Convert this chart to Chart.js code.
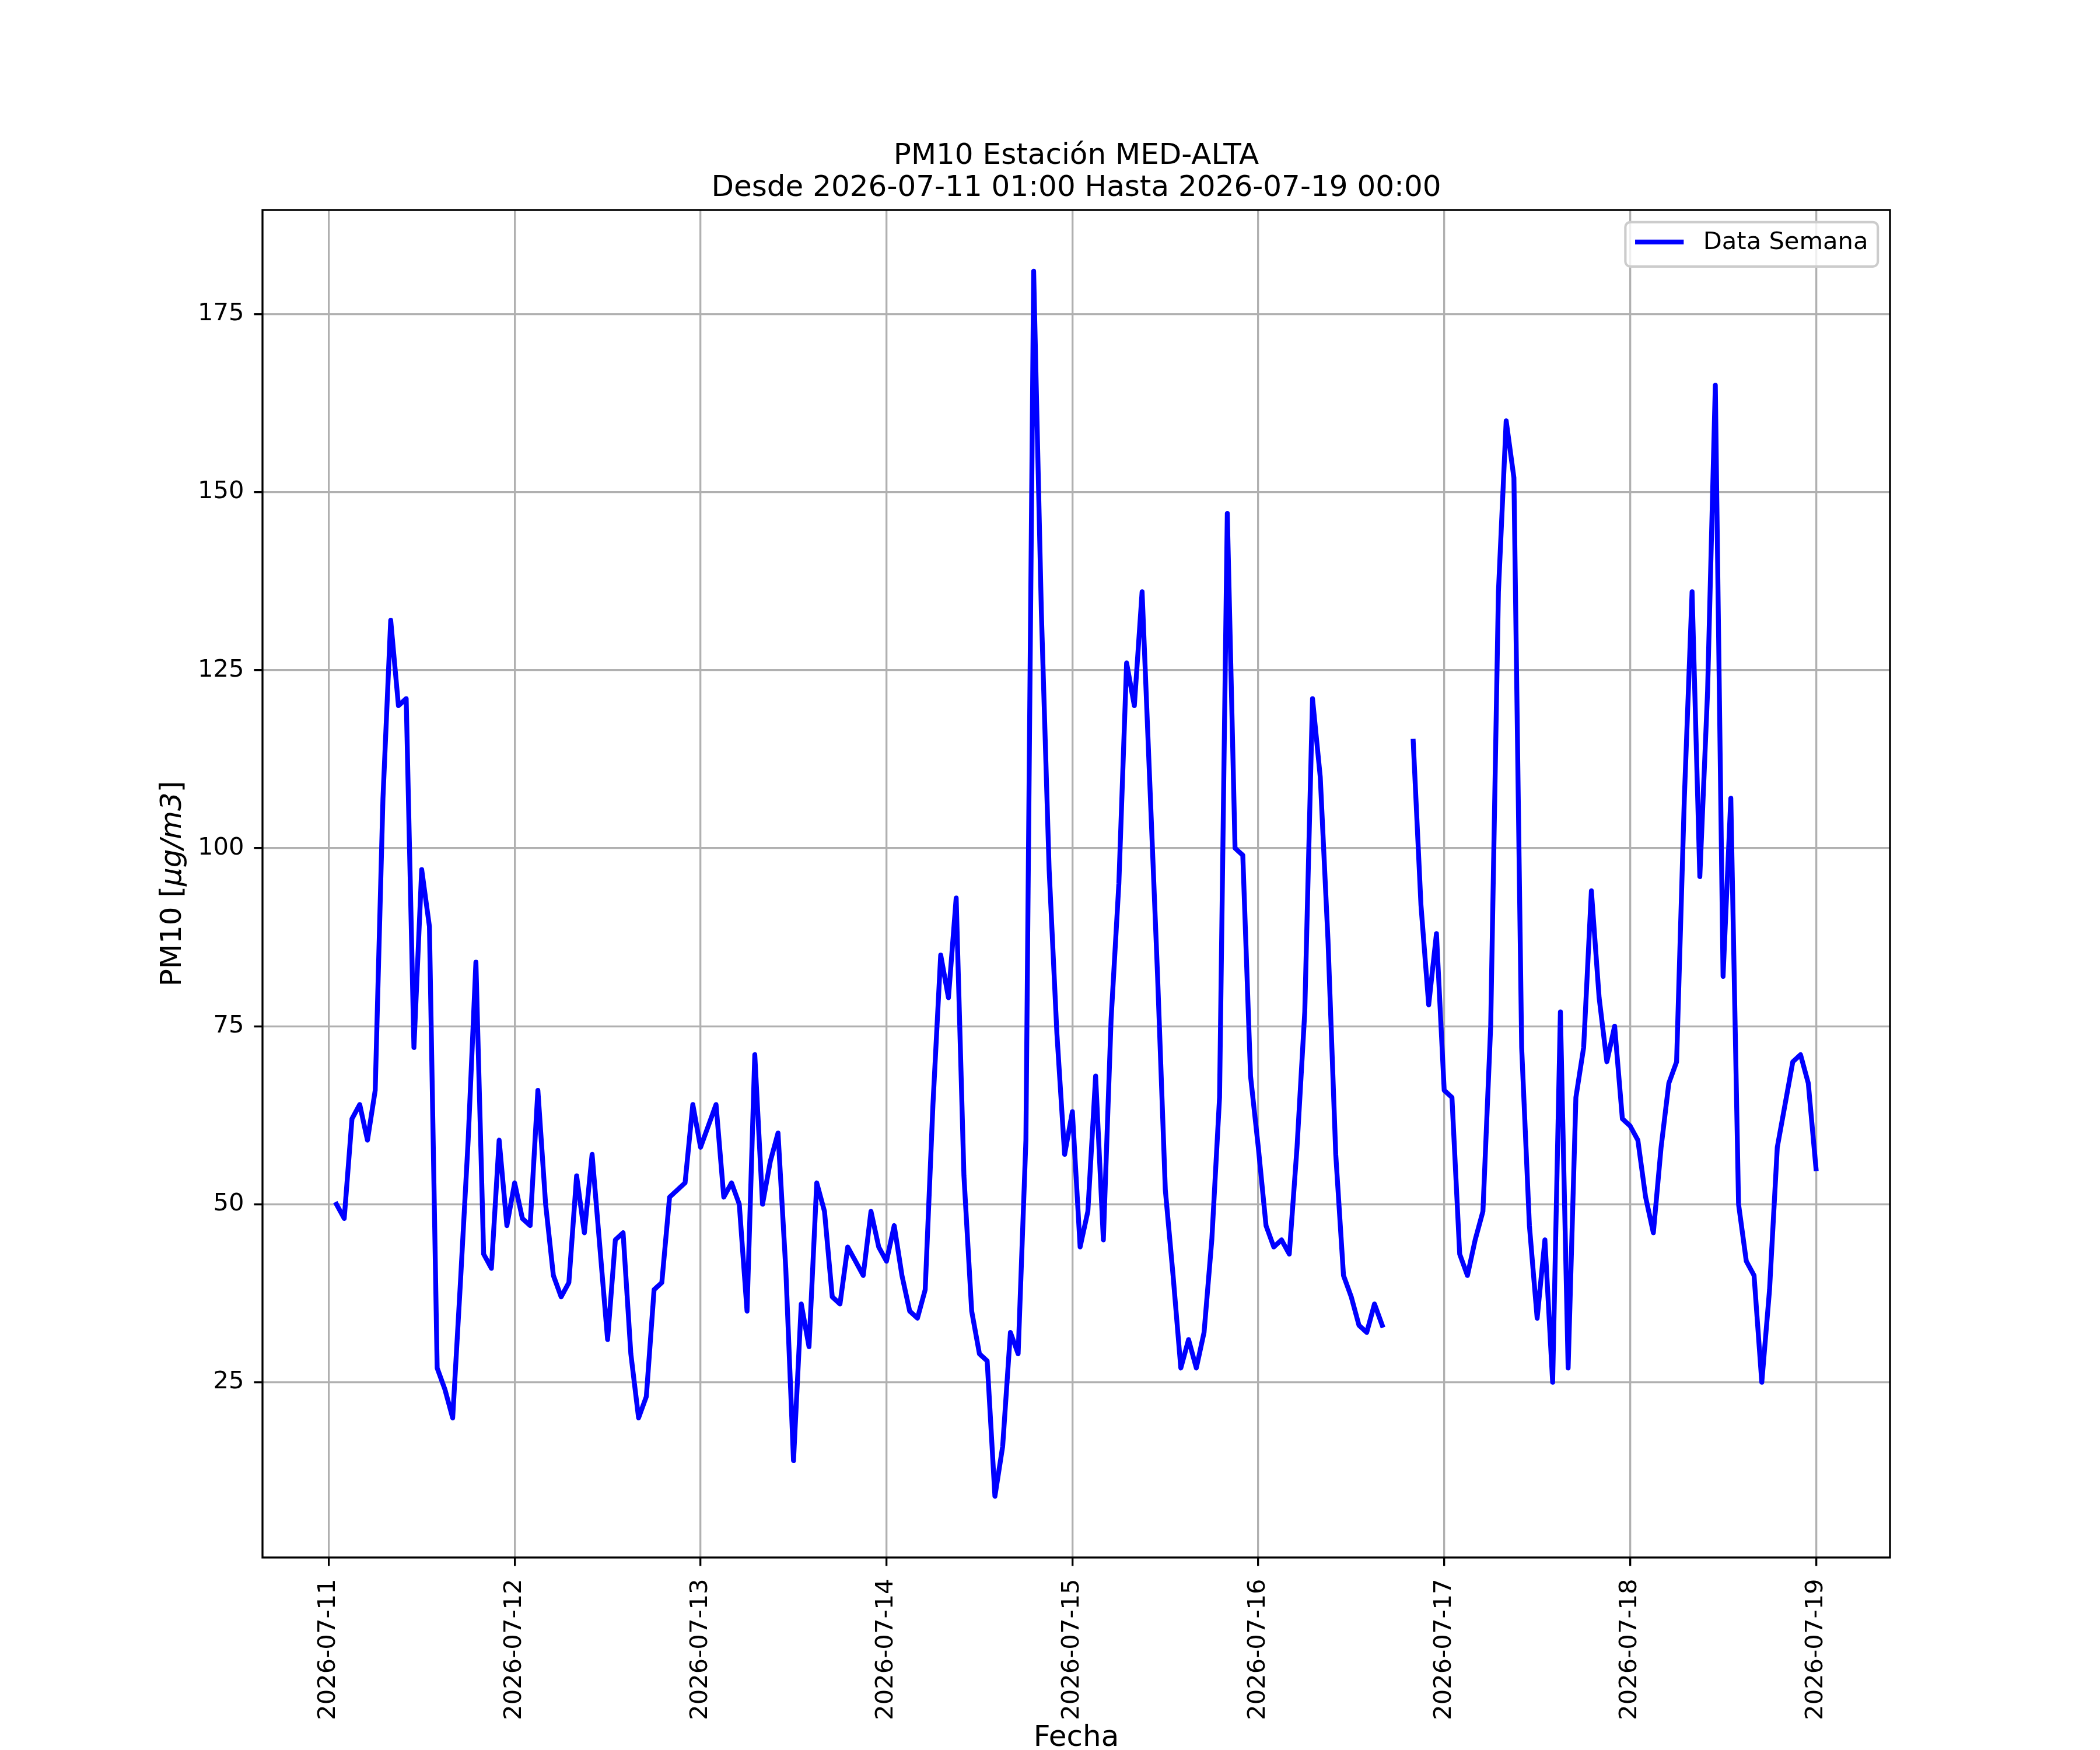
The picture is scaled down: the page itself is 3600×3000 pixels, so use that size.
<!DOCTYPE html>
<html>
<head>
<meta charset="utf-8">
<script src="https://cdn.jsdelivr.net/npm/chart.js@4.4.1/dist/chart.umd.min.js"></script>
<style>
  body { margin: 0; background: #ffffff; }
  canvas { display: block; }
</style>
</head>
<body>
<canvas id="chart" width="3600" height="3000"></canvas>
<script>
// hourly PM10, 2026-07-11 01:00 .. 2026-07-19 00:00 (null = missing hour)
const pm10 = [
  // 07-11 01..23
  50, 48, 62, 64, 59, 66, 107, 132, 120, 121, 72, 97, 89, 27, 24, 20, 39, 59, 84, 43, 41, 59, 47,
  // 07-12
  53, 48, 47, 66, 50, 40, 37, 39, 54, 46, 57, 44, 31, 45, 46, 29, 20, 23, 38, 39, 51, 52, 53, 64,
  // 07-13
  58, 61, 64, 51, 53, 50, 35, 71, 50, 56, 60, 41, 14, 36, 30, 53, 49, 37, 36, 44, 42, 40, 49, 44,
  // 07-14
  42, 47, 40, 35, 34, 38, 64, 85, 79, 93, 54, 35, 29, 28, 9, 16, 32, 29, 59, 181, 133, 97, 74, 57,
  // 07-15
  63, 44, 49, 68, 45, 76, 95, 126, 120, 136, 109, 82, 52, 40, 27, 31, 27, 32, 45, 65, 147, 100, 99, 68,
  // 07-16
  58, 47, 44, 45, 43, 58, 77, 121, 110, 87, 57, 40, 37, 33, 32, 36, 33, null, null, null, 115, 92, 78, 88,
  // 07-17
  66, 65, 43, 40, 45, 49, 75, 136, 160, 152, 72, 47, 34, 45, 25, 77, 27, 65, 72, 94, 79, 70, 75, 62,
  // 07-18
  61, 59, 51, 46, 58, 67, 70, 107, 136, 96, 122, 165, 82, 107, 50, 42, 40, 25, 38, 58, 64, 70, 71, 67,
  // 07-19 00
  55
];
// hours counted from 2026-07-11 00:00
const hours = pm10.map((v, i) => i + 1);

const dayLabels = ["2026-07-11", "2026-07-12", "2026-07-13", "2026-07-14", "2026-07-15",
  "2026-07-16", "2026-07-17", "2026-07-18", "2026-07-19"];
const dayHours = [0, 24, 48, 72, 96, 120, 144, 168, 192];
const yTicks = [25, 50, 75, 100, 125, 150, 175];

const titleLines = ["PM10 Estación MED-ALTA", "Desde 2026-07-11 01:00 Hasta 2026-07-19 00:00"];
const seriesName = "Data Semana";
// y label: plain part, italic (math) part, plain part
const yLabelParts = [["PM10 [", false], ["μg/m3", true], ["]", false]];

const FONT = "DejaVu Sans";
const PT = 300 / 72;

const framePlugin = {
  id: "frame",
  beforeDraw(chart) {
    const ctx = chart.ctx;
    ctx.save();
    ctx.fillStyle = "#ffffff";
    ctx.fillRect(0, 0, chart.width, chart.height);
    ctx.restore();
  },
  afterDraw(chart) {
    const {ctx, chartArea: a} = chart;
    ctx.save();
    ctx.strokeStyle = "#000000";
    ctx.lineWidth = 0.8 * PT;
    ctx.strokeRect(a.left, a.top, a.right - a.left, a.bottom - a.top);

    // y axis label with mathtext-like italic part
    const ls = 12 * PT;
    ctx.save();
    ctx.translate(297, (a.top + a.bottom) / 2);
    ctx.rotate(-Math.PI / 2);
    ctx.textBaseline = "middle";
    ctx.fillStyle = "#000000";
    const fontOf = (it) => (it ? "italic " : "") + ls + "px '" + FONT + "'";
    let total = 0;
    for (const [t, it] of yLabelParts) {
      ctx.font = fontOf(it);
      total += ctx.measureText(t).width;
    }
    let px = -total / 2;
    for (const [t, it] of yLabelParts) {
      ctx.font = fontOf(it);
      ctx.fillText(t, px, 0);
      px += ctx.measureText(t).width;
    }
    ctx.restore();

    // legend, upper right like matplotlib
    const fs = 10 * PT;
    ctx.font = fs + "px '" + FONT + "'";
    const textW = ctx.measureText(seriesName).width;
    const pad = 0.4 * fs, handle = 2 * fs, gap = 0.8 * fs;
    const w = pad * 2 + handle + gap + textW;
    const h = 76;
    const right = a.right - 0.5 * fs;
    const left = right - w;
    const top = a.top + 0.5 * fs;
    const r = 0.2 * fs;
    ctx.beginPath();
    ctx.roundRect(left, top, w, h, r);
    ctx.fillStyle = "rgba(255,255,255,0.8)";
    ctx.fill();
    ctx.strokeStyle = "#cccccc";
    ctx.lineWidth = 1.0 * PT;
    ctx.stroke();
    ctx.beginPath();
    ctx.moveTo(left + pad, top + 34);
    ctx.lineTo(left + pad + handle, top + 34);
    ctx.strokeStyle = "#0000ff";
    ctx.lineWidth = 2 * PT;
    ctx.lineCap = "butt";
    ctx.stroke();
    ctx.fillStyle = "#000000";
    ctx.textBaseline = "alphabetic";
    ctx.fillText(seriesName, left + pad + handle + gap, top + 46);
    ctx.restore();
  }
};

new Chart(document.getElementById("chart"), {
  type: "line",
  data: {
    datasets: [{
      label: seriesName,
      data: pm10.map((v, i) => ({x: hours[i], y: v})),
      borderColor: "#0000ff",
      borderWidth: 2 * PT,
      borderJoinStyle: "round",
      borderCapStyle: "square",
      pointRadius: 0,
      tension: 0,
      fill: false,
      spanGaps: false
    }]
  },
  options: {
    responsive: false,
    devicePixelRatio: 1,
    animation: false,
    layout: {padding: {top: 0, left: 0, right: 360, bottom: 0}},
    plugins: {
      legend: {display: false},
      tooltip: {enabled: false},
      title: {
        display: true,
        fullSize: false,
        text: titleLines,
        color: "#000000",
        font: {family: FONT, size: 12 * PT, weight: "normal", lineHeight: 1.1},
        padding: {top: 241, bottom: 9}
      }
    },
    scales: {
      x: {
        type: "linear",
        min: 1 - 191 * 0.05,
        max: 192 + 191 * 0.05,
        afterBuildTicks: (axis) => { axis.ticks = dayHours.map(v => ({value: v})); },
        afterFit: (axis) => { axis.height = 330; },
        ticks: {
          autoSkip: false,
          maxRotation: 90,
          minRotation: 90,
          padding: 22,
          color: "#000000",
          font: {family: FONT, size: 10 * PT},
          callback: (value, index) => dayLabels[index]
        },
        grid: {
          color: "#b0b0b0",
          lineWidth: 0.8 * PT,
          tickColor: "#000000",
          tickWidth: 0.8 * PT,
          tickLength: 3.5 * PT
        },
        border: {display: false},
        title: {
          display: true,
          text: "Fecha",
          color: "#000000",
          font: {family: FONT, size: 12 * PT, lineHeight: 0.8},
          padding: {top: 0, bottom: 0}
        }
      },
      y: {
        type: "linear",
        min: 9 - 172 * 0.05,
        max: 181 + 172 * 0.05,
        afterBuildTicks: (axis) => { axis.ticks = yTicks.map(v => ({value: v})); },
        afterFit: (axis) => { axis.width = 450; },
        ticks: {
          padding: 17,
          color: "#000000",
          font: {family: FONT, size: 10 * PT}
        },
        grid: {
          color: "#b0b0b0",
          lineWidth: 0.8 * PT,
          tickColor: "#000000",
          tickWidth: 0.8 * PT,
          tickLength: 3.5 * PT
        },
        border: {display: false},
        title: {display: false}
      }
    }
  },
  plugins: [framePlugin]
});
</script>
</body>
</html>
